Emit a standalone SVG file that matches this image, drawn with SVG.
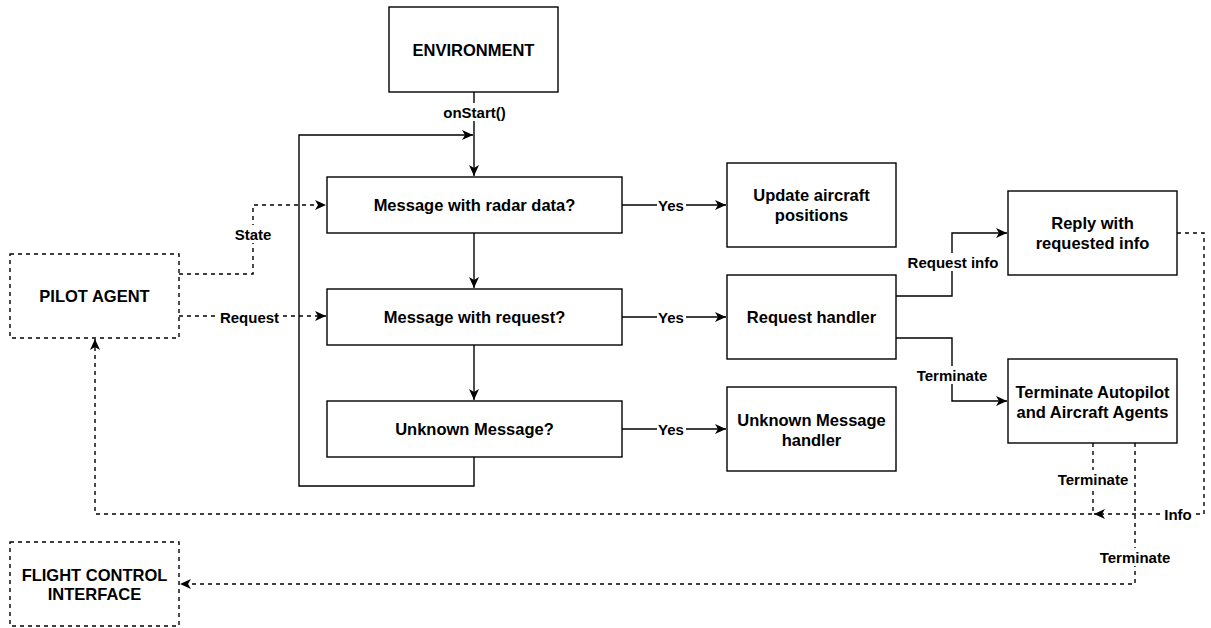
<svg xmlns="http://www.w3.org/2000/svg" width="1211" height="628" viewBox="0 0 1211 628">
<style>
.box{fill:#fff;stroke:#000;stroke-width:1.4}
.dbox{fill:#fff;stroke:#000;stroke-width:1.4;stroke-dasharray:4 4}
.t{font-family:"Liberation Sans",Arial,sans-serif;font-weight:bold;font-size:16.5px;fill:#000;text-anchor:middle;dominant-baseline:central}
.l{font-family:"Liberation Sans",Arial,sans-serif;font-weight:bold;font-size:15px;fill:#000;text-anchor:middle;dominant-baseline:central}
.e{fill:none;stroke:#000;stroke-width:1.4}
.d{fill:none;stroke:#000;stroke-width:1.4;stroke-dasharray:4 4}
.bg{fill:#fff}
</style>
<defs>
<marker id="a" markerUnits="userSpaceOnUse" markerWidth="12" markerHeight="11" refX="11" refY="5" orient="auto">
<path d="M0,0 L11,5 L0,10 L3,5 z" fill="#000"/>
</marker>
</defs>
<g id="connectors">
<path class="e" d="M474,92 V176" marker-end="url(#a)"/>
<path class="e" d="M474,457 V486 H299 V135 H473" marker-end="url(#a)"/>
<path class="e" d="M474,233 V288" marker-end="url(#a)"/>
<path class="e" d="M474,345 V400" marker-end="url(#a)"/>
<path class="e" d="M622,205 H726" marker-end="url(#a)"/>
<path class="e" d="M622,317 H726" marker-end="url(#a)"/>
<path class="e" d="M622,429 H726" marker-end="url(#a)"/>
<path class="e" d="M896,296 H952 V233 H1007" marker-end="url(#a)"/>
<path class="e" d="M896,338 H952 V401 H1007" marker-end="url(#a)"/>
<path class="d" d="M179,274 H253 V205 H326" marker-end="url(#a)"/>
<path class="d" d="M179,316 H326" marker-end="url(#a)"/>
<path class="d" d="M1093,443 V514 H95 V339" marker-end="url(#a)"/>
<path class="d" d="M1177,233 H1204 V514 H1094" marker-end="url(#a)"/>
<path class="d" d="M1135,443 V584 H180" marker-end="url(#a)"/>
<rect class="bg" x="441" y="103" width="67" height="18"/>
<text class="l" x="474.5" y="112">onStart()</text>
<rect class="bg" x="235" y="225" width="37" height="18"/>
<text class="l" x="253" y="234">State</text>
<rect class="bg" x="219" y="308" width="61" height="18"/>
<text class="l" x="249.5" y="317">Request</text>
<rect class="bg" x="657" y="196" width="29" height="18"/>
<text class="l" x="671" y="205">Yes</text>
<rect class="bg" x="657" y="308" width="29" height="18"/>
<text class="l" x="671" y="317">Yes</text>
<rect class="bg" x="657" y="420" width="29" height="18"/>
<text class="l" x="671" y="429">Yes</text>
<rect class="bg" x="906" y="253" width="94" height="18"/>
<text class="l" x="953" y="262">Request info</text>
<rect class="bg" x="916" y="366" width="73" height="18"/>
<text class="l" x="952" y="375">Terminate</text>
<rect class="bg" x="1057" y="470" width="73" height="18"/>
<text class="l" x="1093" y="479">Terminate</text>
<rect class="bg" x="1162" y="505" width="33" height="18"/>
<text class="l" x="1178" y="514">Info</text>
<rect class="bg" x="1098" y="548" width="74" height="18"/>
<text class="l" x="1135" y="557">Terminate</text>
</g>
<g id="environment">
<rect class="box" x="389" y="7" width="169" height="85"/>
<text class="t" x="473.5" y="50">ENVIRONMENT</text>
</g>
<g id="msg-radar">
<rect class="box" x="327" y="177" width="295" height="56"/>
<text class="t" x="474.5" y="205">Message with radar data?</text>
</g>
<g id="msg-request">
<rect class="box" x="327" y="289" width="295" height="56"/>
<text class="t" x="474.5" y="317">Message with request?</text>
</g>
<g id="msg-unknown">
<rect class="box" x="327" y="401" width="295" height="56"/>
<text class="t" x="474.5" y="429">Unknown Message?</text>
</g>
<g id="update-positions">
<rect class="box" x="727" y="163" width="169" height="84"/>
<text class="t" x="811.5" y="195">Update aircraft</text>
<text class="t" x="811.5" y="215">positions</text>
</g>
<g id="request-handler">
<rect class="box" x="727" y="275" width="169" height="84"/>
<text class="t" x="811.5" y="317">Request handler</text>
</g>
<g id="unknown-handler">
<rect class="box" x="727" y="387" width="169" height="84"/>
<text class="t" x="811.5" y="420">Unknown Message</text>
<text class="t" x="811.5" y="440">handler</text>
</g>
<g id="reply">
<rect class="box" x="1008" y="191" width="169" height="84"/>
<text class="t" x="1092.5" y="223">Reply with</text>
<text class="t" x="1092.5" y="243">requested info</text>
</g>
<g id="terminate">
<rect class="box" x="1008" y="359" width="169" height="84"/>
<text class="t" x="1092.5" y="392">Terminate Autopilot</text>
<text class="t" x="1092.5" y="412">and Aircraft Agents</text>
</g>
<g id="pilot-agent">
<rect class="dbox" x="10" y="254" width="169" height="84"/>
<text class="t" x="94.5" y="296">PILOT AGENT</text>
</g>
<g id="flight-control">
<rect class="dbox" x="10" y="542" width="169" height="84"/>
<text class="t" x="94.5" y="575">FLIGHT CONTROL</text>
<text class="t" x="94.5" y="594">INTERFACE</text>
</g>
</svg>
